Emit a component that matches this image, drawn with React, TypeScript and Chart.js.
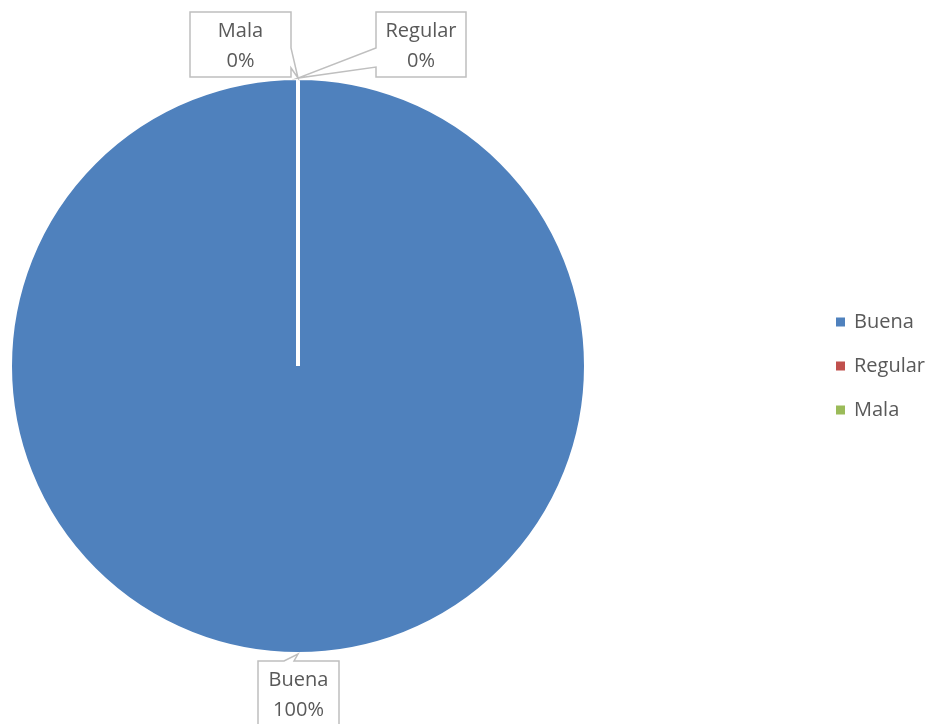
import React, { useEffect, useRef } from 'react';
import { Chart, registerables } from 'chart.js';

Chart.register(...registerables);

const categories = ['Buena', 'Regular', 'Mala'];
const values = [100, 0, 0];
const colors = ['#4F81BD', '#C0504D', '#9BBB59'];

const FONT_FAMILY = '"Open Sans", Lato, sans-serif';
const FONT_SIZE = 20;
const TEXT_COLOR = '#595959';
const CALLOUT_BORDER = '#BFBFBF';

// callout box geometry relative to the slice's anchor on the rim
type Callout = { dx: number; dy: number; w: number; h: number; side: 'top' | 'left' | 'right'; b0: number; b1: number };
const callouts: Callout[] = [
  { dx: -40, dy: 7, w: 81, h: 72, side: 'top', b0: -14, b1: -4 },
  { dx: 78, dy: -66, w: 90, h: 65, side: 'left', b0: -30, b1: -11 },
  { dx: -108, dy: -66, w: 101, h: 65, side: 'right', b0: -30, b1: -10 },
];

const calloutPlugin = {
  id: 'callouts',
  afterDatasetsDraw(chart: any) {
    const meta = chart.getDatasetMeta(0);
    const ctx: CanvasRenderingContext2D = chart.ctx;
    const data: number[] = chart.data.datasets[0].data;
    const total = data.reduce((a, b) => a + b, 0);
    ctx.save();
    meta.data.forEach((arc: any, i: number) => {
      const { x, y, startAngle, endAngle, outerRadius } = arc.getProps(['x', 'y', 'startAngle', 'endAngle', 'outerRadius'], true);
      const mid = (startAngle + endAngle) / 2;
      const ax = x + Math.cos(mid) * outerRadius;
      const ay = y + Math.sin(mid) * outerRadius;
      const c = callouts[i];
      const left = ax + c.dx;
      const top = ay + c.dy;
      const right = left + c.w;
      const bottom = top + c.h;
      ctx.beginPath();
      if (c.side === 'top') {
        ctx.moveTo(left, top);
        ctx.lineTo(ax + c.b0, top);
        ctx.lineTo(ax, ay);
        ctx.lineTo(ax + c.b1, top);
        ctx.lineTo(right, top);
        ctx.lineTo(right, bottom);
        ctx.lineTo(left, bottom);
      } else if (c.side === 'left') {
        ctx.moveTo(left, top);
        ctx.lineTo(right, top);
        ctx.lineTo(right, bottom);
        ctx.lineTo(left, bottom);
        ctx.lineTo(left, ay + c.b1);
        ctx.lineTo(ax, ay);
        ctx.lineTo(left, ay + c.b0);
      } else {
        ctx.moveTo(left, top);
        ctx.lineTo(right, top);
        ctx.lineTo(right, ay + c.b0);
        ctx.lineTo(ax, ay);
        ctx.lineTo(right, ay + c.b1);
        ctx.lineTo(right, bottom);
        ctx.lineTo(left, bottom);
      }
      ctx.closePath();
      ctx.fillStyle = '#FFFFFF';
      ctx.fill();
      ctx.strokeStyle = CALLOUT_BORDER;
      ctx.lineWidth = 1.5;
      ctx.lineJoin = 'miter';
      ctx.stroke();
      const pct = total ? Math.round((data[i] / total) * 100) : 0;
      ctx.fillStyle = TEXT_COLOR;
      ctx.font = `${FONT_SIZE}px ${FONT_FAMILY}`;
      ctx.textAlign = 'center';
      ctx.textBaseline = 'middle';
      const cx = (left + right) / 2;
      ctx.fillText(chart.data.labels[i], cx, top + 19);
      ctx.fillText(`${pct}%`, cx, top + 49);
    });
    ctx.restore();
  },
};

const legendPlugin = {
  id: 'sideLegend',
  afterDraw(chart: any) {
    const ctx: CanvasRenderingContext2D = chart.ctx;
    const ds = chart.data.datasets[0];
    const n = chart.data.labels.length;
    const spacing = 44;
    const boxX = chart.width - 98;
    const cy = chart.chartArea.top + chart.chartArea.height / 2;
    const startY = cy - ((n - 1) * spacing) / 2;
    ctx.save();
    ctx.font = `${FONT_SIZE}px ${FONT_FAMILY}`;
    ctx.textBaseline = 'middle';
    ctx.textAlign = 'left';
    chart.data.labels.forEach((label: string, i: number) => {
      const y = startY + i * spacing;
      ctx.fillStyle = ds.backgroundColor[i];
      ctx.fillRect(boxX, y - 4.5, 9, 9);
      ctx.fillStyle = TEXT_COLOR;
      ctx.fillText(label, boxX + 18, y);
    });
    ctx.restore();
  },
};

export default function App() {
  const ref = useRef<HTMLCanvasElement>(null);
  useEffect(() => {
    document.body.style.margin = '0';
    const canvas = ref.current!;
    const chart = new Chart(canvas, {
      type: 'pie',
      data: {
        labels: categories,
        datasets: [
          {
            data: values,
            backgroundColor: colors,
            borderColor: '#FFFFFF',
            borderWidth: 4,
            hoverOffset: 0,
            hoverBorderWidth: 4,
          },
        ],
      },
      options: {
        responsive: false,
        animation: false,
        devicePixelRatio: 1,
        layout: { padding: { left: 8, right: 346, top: 76, bottom: 68 } },
        plugins: {
          legend: { display: false },
          tooltip: { enabled: false },
        },
      },
      plugins: [calloutPlugin, legendPlugin],
    });
    return () => chart.destroy();
  }, []);
  return <canvas ref={ref} width={934} height={724} style={{ display: 'block' }} />;
}
